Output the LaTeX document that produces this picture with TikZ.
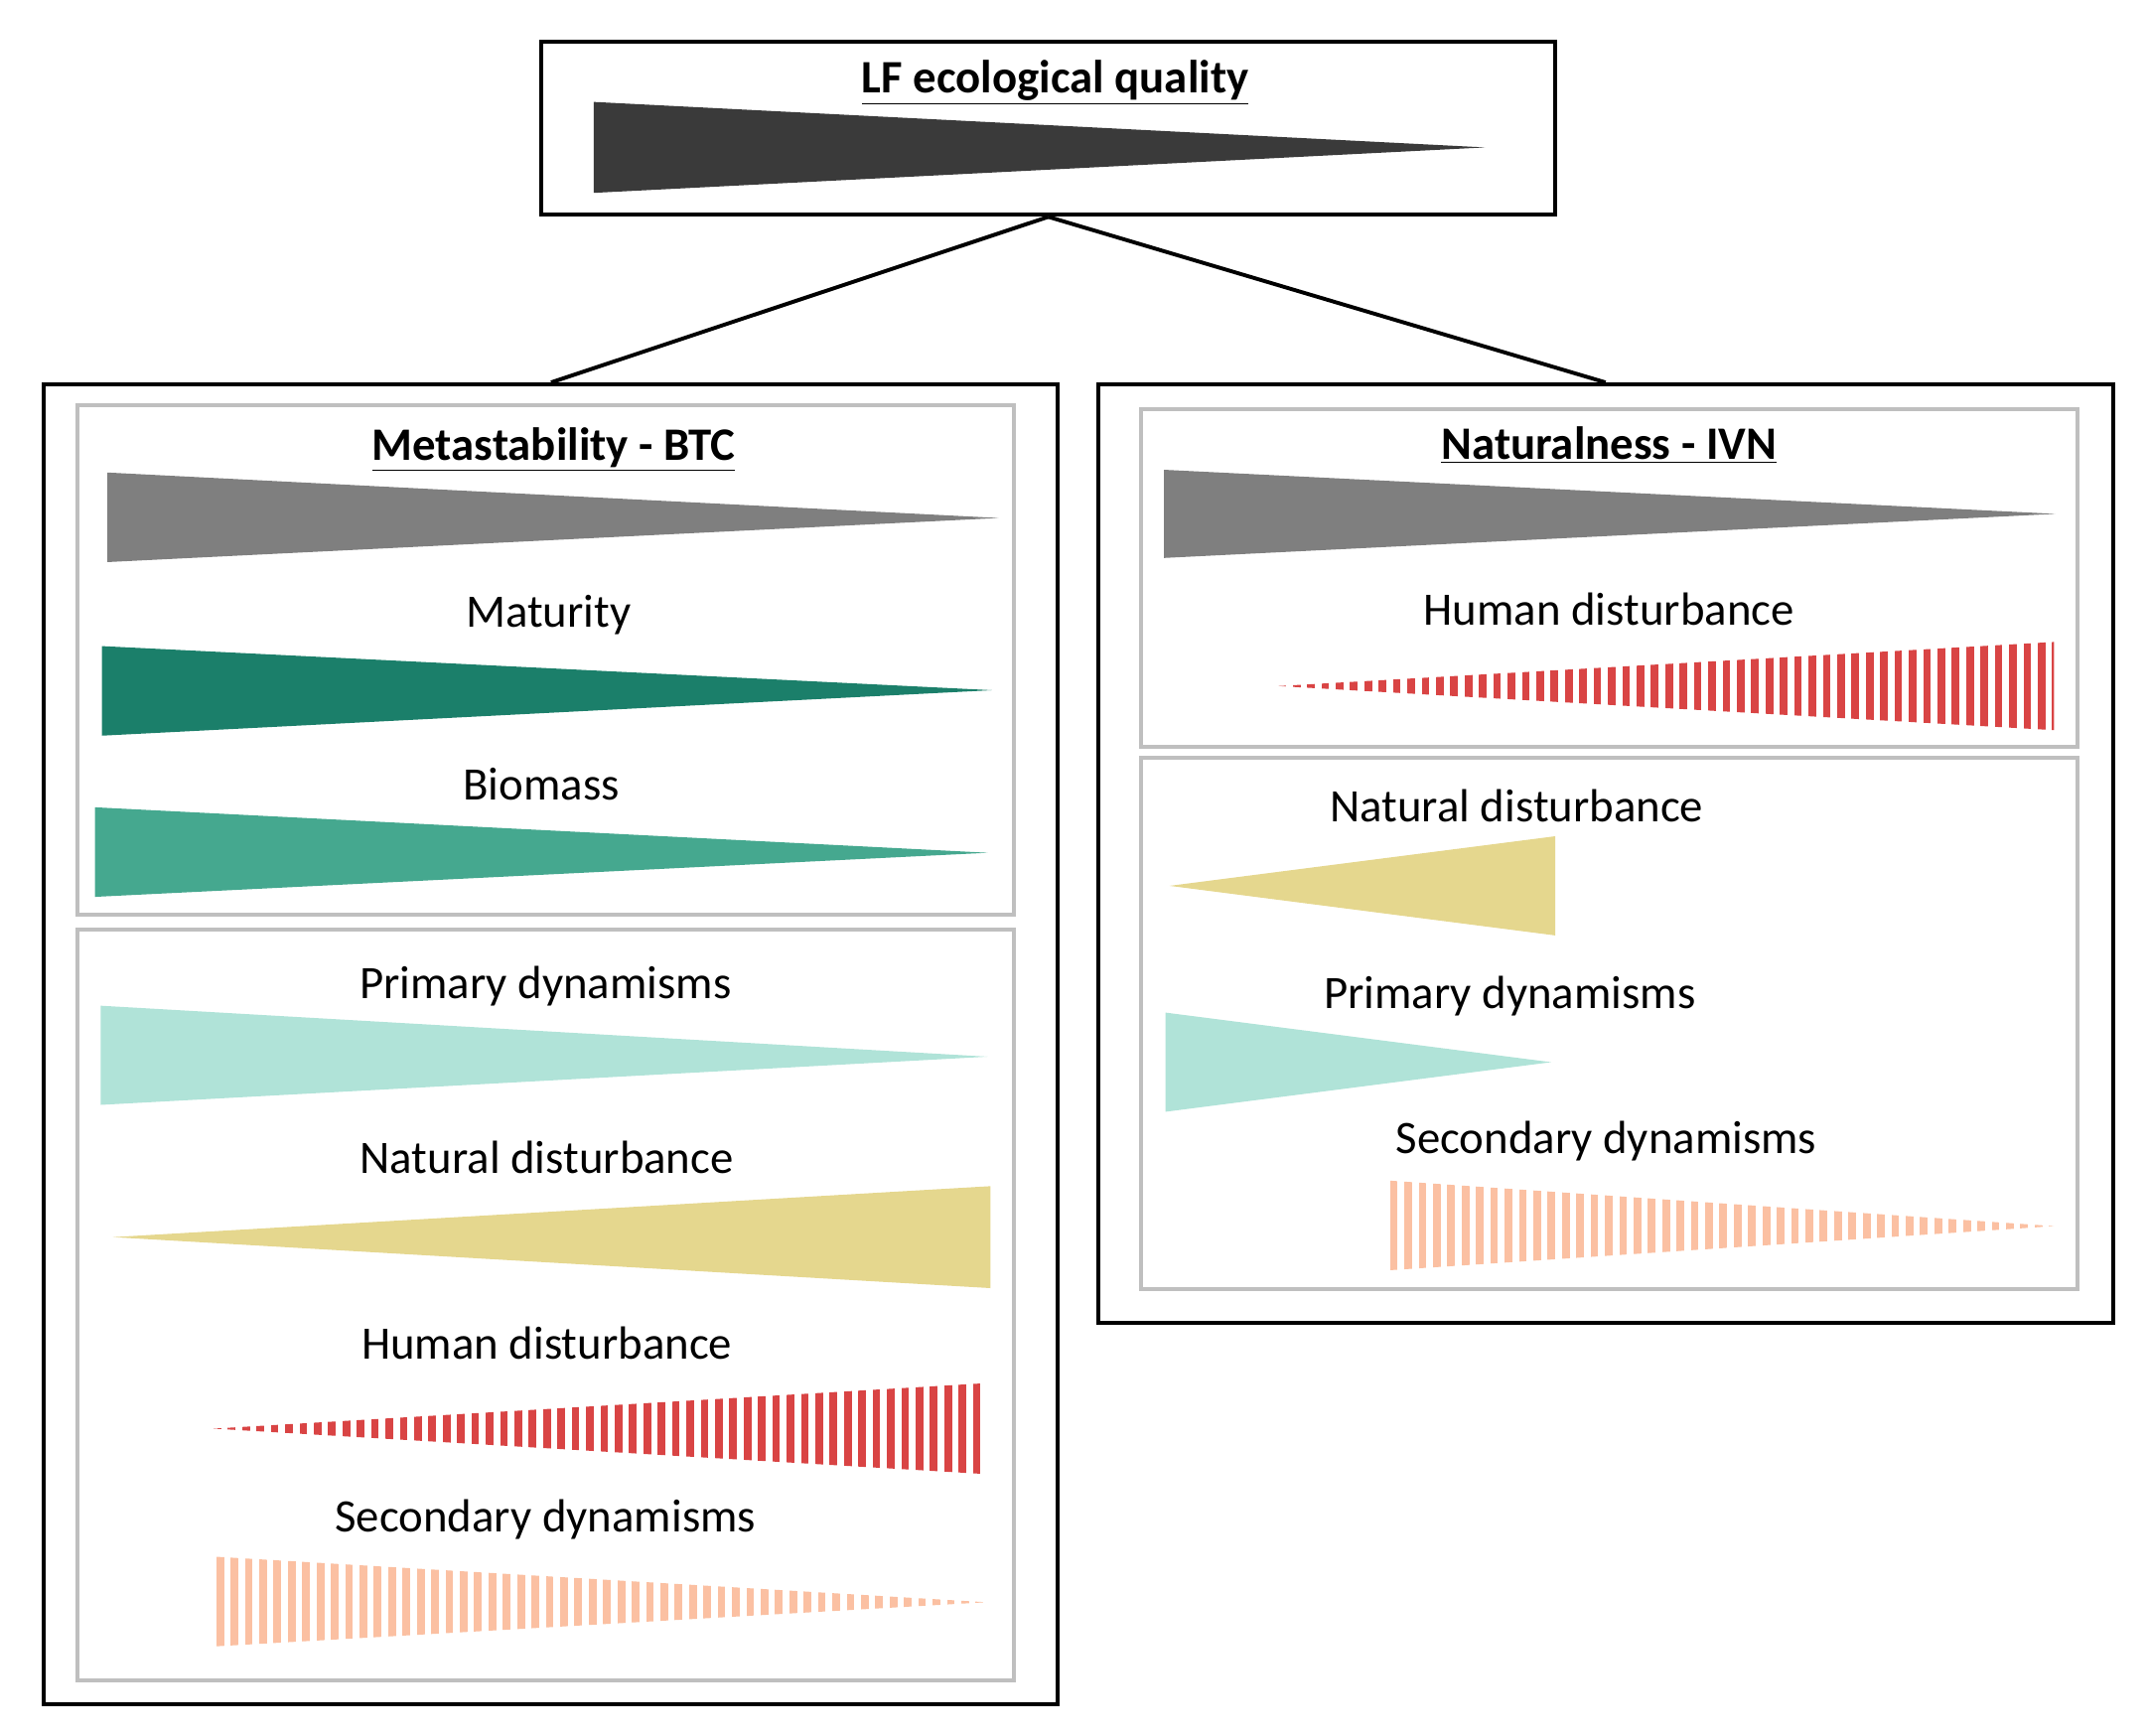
\documentclass[tikz,border=0pt]{standalone}
\usepackage{fontspec}
\setmainfont{Carlito}
\begin{document}
\begin{tikzpicture}[x=0.25mm,y=-0.25mm,
  lbl/.style={font=\fontsize{24}{27}\selectfont,inner sep=0pt},
  ttl/.style={font=\fontsize{24}{27}\selectfont\bfseries,inner sep=0pt},
  outer/.style={draw=black,line width=2pt},
  inner/.style={draw=black!25,line width=2pt},
  conn/.style={draw=black,line width=2pt}]
\definecolor{dk}{HTML}{3A3A3A}
\definecolor{gy}{HTML}{7F7F7F}
\definecolor{tdk}{HTML}{1B7F6A}
\definecolor{tmd}{HTML}{45A88F}
\definecolor{tlt}{HTML}{B0E3D8}
\definecolor{snd}{HTML}{E5D78E}
\definecolor{rd}{HTML}{D94444}
\definecolor{pch}{HTML}{FBC0A2}
\newcommand{\stripes}[6]{% color, x0, x1, ymin, ymax, clip path
  \begin{scope}\clip #6;
  \pgfmathsetmacro{\nn}{int((#3-#2)/10.4)}
  \foreach \i in {0,...,\nn} {\fill[#1] ({#2+\i*10.4},#4) rectangle ({#2+\i*10.4+5.6},#5);}
  \end{scope}}
\useasboundingbox (0,0) rectangle (1560,1260);
% top
\node[outer,minimum width=736*0.25mm,minimum height=126*0.25mm,inner sep=0pt] (top) at (761,93) {};
\node[ttl] (ttop) at (766,60) {\underline{LF ecological quality}};
\fill[dk] (431,74) -- (431,140) -- (1078,107) -- cycle;
% outer boxes
\node[outer,minimum width=736*0.25mm,minimum height=958*0.25mm,inner sep=0pt] (L) at (400,758) {};
\node[outer,minimum width=737*0.25mm,minimum height=681*0.25mm,inner sep=0pt] (R) at (1165.5,619.5) {};
\draw[conn] (top.south) -- (L.north);
\draw[conn] (top.south) -- (R.north);
% inner boxes
\draw[inner] (56,294) rectangle (736,664);
\draw[inner] (56,675) rectangle (736,1220);
\draw[inner] (828,297) rectangle (1508,542);
\draw[inner] (828,550) rectangle (1508,936);
% left
\node[ttl] (t1) at (402,326) {\underline{Metastability - BTC}};
\fill[gy] (78,343) -- (78,408) -- (725,376) -- cycle;
\node[lbl] (m) at (398,446) {Maturity};
\fill[tdk] (74,469) -- (74,534) -- (720,501) -- cycle;
\node[lbl] (b) at (393,569) {Biomass};
\fill[tmd] (69,586) -- (69,651) -- (717,619) -- cycle;
\node[lbl] (p1) at (396,716) {Primary dynamisms};
\fill[tlt] (73,730) -- (73,802) -- (717,767) -- cycle;
\node[lbl] (n1) at (397,840) {Natural disturbance};
\fill[snd] (82,898) -- (719,861) -- (719,935) -- cycle;
\node[lbl] (h1) at (397,975) {Human disturbance};
\stripes{rd}{155}{715}{1000}{1075}{(155,1037) -- (716,1004) -- (716,1070) -- cycle}
\node[lbl] (s1) at (396,1103) {Secondary dynamisms};
\stripes{pch}{157}{715}{1125}{1200}{(157,1130) -- (157,1195) -- (716,1163) -- cycle}
% right
\node[ttl] (t2) at (1168,323) {\underline{Naturalness - IVN}};
\fill[gy] (845,341) -- (845,405) -- (1492,373) -- cycle;
\node[lbl] (h2) at (1168,442) {Human disturbance};
\stripes{rd}{928}{1490}{460}{535}{(928,498) -- (1491,466) -- (1491,530) -- cycle}
\node[lbl] (n2) at (1101,585) {Natural disturbance};
\fill[snd] (849,643) -- (1129,607) -- (1129,679) -- cycle;
\node[lbl] (p2) at (1096,723) {Primary dynamisms};
\fill[tlt] (846,735) -- (846,807) -- (1126,771) -- cycle;
\node[lbl] (s2) at (1166,828) {Secondary dynamisms};
\stripes{pch}{1009}{1490}{852}{927}{(1009,857) -- (1009,922) -- (1491,890) -- cycle}
\end{tikzpicture}
\end{document}
